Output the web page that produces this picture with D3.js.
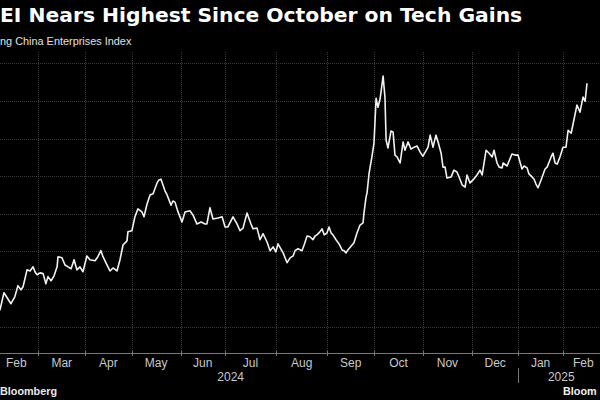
<!DOCTYPE html>
<html>
<head>
<meta charset="utf-8">
<script src="https://cdn.jsdelivr.net/npm/d3@7"></script>
<style>
  html, body { margin: 0; padding: 0; background: #000; overflow: hidden; }
  svg { display: block; }
</style>
</head>
<body>
<svg id="chart" width="600" height="400"></svg>
<script>
// ---- Data (x = trading-day index counted from 1 Feb 2024) ----
const tradingDay = [-4, 2.5, 4.2, 7.2, 8.9, 10.2, 11.5, 12.4, 14.1, 15.4, 16.7, 17.5, 18.4, 19.7, 21.0, 22.2, 23.1, 24.4, 25.7, 27.0, 27.4, 29.1, 30.4, 31.7, 33.0, 34.3, 35.5, 36.8, 38.1, 39.8, 41.1, 43.3, 44.5, 45.8, 46.7, 48.4, 49.7, 51.0, 52.7, 54.0, 55.3, 57.0, 57.4, 59.1, 60.4, 61.7, 63.4, 64.3, 65.6, 66.9, 68.2, 69.9, 70.7, 71.6, 72.4, 73.3, 74.2, 75.9, 76.7, 77.6, 78.9, 80.6, 81.9, 84.0, 85.3, 87.0, 88.8, 90.5, 91.3, 92.6, 93.9, 96.1, 97.8, 99.1, 100.3, 102.5, 104.2, 105.5, 106.8, 108.5, 110.2, 111.1, 112.8, 114.1, 115.4, 117.1, 118.4, 119.7, 120.9, 121.8, 124.0, 125.7, 127.0, 128.3, 129.1, 130.4, 132.1, 133.0, 134.3, 135.5, 136.8, 137.7, 138.5, 139.8, 140.7, 141.6, 142.8, 143.7, 144.6, 145.4, 146.7, 148.0, 149.3, 150.1, 151.0, 151.8, 153.6, 154.4, 155.7, 157.0, 158.3, 158.7, 159.6, 160.0, 160.9, 162.1, 163.0, 163.9, 164.7, 165.6, 166.4, 166.9, 167.7, 168.2, 169.0, 170.3, 171.2, 172.0, 172.9, 174.2, 175.5, 176.3, 177.6, 178.9, 180.2, 181.5, 182.8, 184.0, 185.3, 186.2, 187.1, 188.3, 189.6, 190.5, 191.8, 192.6, 193.5, 194.3, 196.1, 197.3, 198.6, 199.5, 200.8, 202.1, 202.9, 204.2, 205.5, 207.2, 208.5, 209.4, 211.1, 212.4, 213.7, 214.5, 215.8, 216.7, 218.0, 218.4, 220.1, 222.2, 223.5, 224.8, 226.5, 227.4, 228.7, 229.5, 230.8, 231.7, 232.5, 233.4, 234.7, 236.4, 237.3, 239.0, 239.8, 240.7, 241.6, 242.8, 244.1, 245.4, 246.3, 247.6, 248.4, 250.1, 251.4, 252.7, 253.6, 254.4];
const indexValue = [5200, 5225, 5450, 5305, 5400, 5545, 5490, 5530, 5755, 5740, 5795, 5730, 5690, 5715, 5705, 5570, 5665, 5610, 5675, 5795, 5930, 5915, 5820, 5795, 5770, 5890, 5755, 5795, 5730, 5940, 5890, 5875, 5930, 6010, 5930, 5820, 5740, 5780, 5740, 5890, 6085, 6140, 6260, 6275, 6460, 6565, 6525, 6460, 6630, 6750, 6765, 6910, 6950, 6960, 6885, 6805, 6750, 6615, 6670, 6655, 6525, 6390, 6525, 6540, 6485, 6365, 6390, 6365, 6365, 6580, 6430, 6445, 6460, 6325, 6325, 6460, 6365, 6275, 6310, 6510, 6365, 6300, 6310, 6155, 6235, 6125, 6010, 6060, 5995, 6100, 5980, 5850, 5915, 5940, 6010, 6035, 6010, 6085, 6205, 6195, 6155, 6205, 6220, 6260, 6300, 6220, 6245, 6325, 6245, 6220, 6155, 6100, 6020, 6010, 5980, 6020, 6085, 6115, 6245, 6350, 6380, 6510, 6725, 6775, 7040, 7255, 7440, 8035, 7915, 8025, 8210, 8330, 8050, 7480, 7375, 7600, 7585, 7280, 7255, 7175, 7455, 7345, 7455, 7360, 7385, 7400, 7320, 7265, 7335, 7385, 7545, 7385, 7545, 7455, 7305, 7120, 7120, 6975, 6990, 7080, 7055, 6990, 6885, 6855, 7015, 6910, 6950, 7015, 7080, 7015, 7345, 7305, 7255, 7345, 7175, 7120, 7110, 7175, 7135, 7295, 7280, 7280, 7095, 7135, 7110, 7030, 6990, 6960, 6895, 6845, 6950, 7095, 7120, 7255, 7305, 7175, 7160, 7255, 7385, 7385, 7610, 7570, 7690, 7945, 7850, 8050, 7995, 8235];

// Month starts (trading-day index) and labels
const monthLabels = ["Feb", "Mar", "Apr", "May", "Jun", "Jul", "Aug", "Sep", "Oct", "Nov", "Dec", "Jan", "Feb"];
const monthStart  = [0, 19, 39, 59, 80, 99, 121, 143, 163, 184, 205, 225, 244];
const yearLabels  = ["2024", "2025"];
const yearStart   = [-22, 225];
const yTicks      = [5000, 5500, 6000, 6500, 7000, 7500, 8000, 8500];

// Texts as they appear in the (cropped) picture
const titleText    = "EI Nears Highest Since October on Tech Gains";
const subtitleText = "ng China Enterprises Index";
const sourceText   = "Bloomberg";
const brandText    = "Bloom";

// ---- Layout ----
const svg = d3.select("#chart");
const domainStart = -22, domainEnd = 261.7;
const x = d3.scaleLinear().domain([domainStart, domainEnd]).range([-57.1, 604]);
const y = d3.scaleLinear().domain([4650, 8650]).range([353, 52]);
const plotTop = 52, plotBottom = 353;

// horizontal gridlines
svg.append("g").selectAll("line").data(yTicks).join("line")
  .attr("x1", 0).attr("x2", 600)
  .attr("y1", d => Math.round(y(d)) + 0.5).attr("y2", d => Math.round(y(d)) + 0.5)
  .attr("stroke", "#3a3a3a").attr("stroke-width", 1).attr("stroke-dasharray", "1,1");

// vertical gridlines at month starts
svg.append("g").selectAll("line").data(monthStart.slice(1)).join("line")
  .attr("x1", d => Math.round(x(d)) + 0.5).attr("x2", d => Math.round(x(d)) + 0.5)
  .attr("y1", plotTop).attr("y2", plotBottom)
  .attr("stroke", "#3a3a3a").attr("stroke-width", 1).attr("stroke-dasharray", "1,1");

// x axis baseline + ticks
svg.append("line").attr("x1", 0).attr("x2", 600)
  .attr("y1", plotBottom + 0.5).attr("y2", plotBottom + 0.5)
  .attr("stroke", "#777").attr("stroke-width", 1);
svg.append("g").selectAll("line").data(monthStart.slice(1)).join("line")
  .attr("x1", d => Math.round(x(d)) + 0.5).attr("x2", d => Math.round(x(d)) + 0.5)
  .attr("y1", plotBottom - 2).attr("y2", plotBottom + 3)
  .attr("stroke", "#777").attr("stroke-width", 1);

// month labels centred in each month
const monthEnds = monthStart.slice(1).concat([domainEnd]);
svg.append("g").selectAll("text").data(monthLabels).join("text")
  .attr("x", (d, i) => (x(monthStart[i]) + x(monthEnds[i])) / 2)
  .attr("y", 367)
  .attr("text-anchor", "middle")
  .attr("font-family", "'Liberation Sans', Arial, sans-serif")
  .attr("font-size", 12)
  .attr("fill", "#c8c8c8")
  .text(d => d);

// year labels
const yearEnds = [yearStart[1], domainEnd];
svg.append("g").selectAll("text").data(yearLabels).join("text")
  .attr("x", (d, i) => (x(yearStart[i]) + x(yearEnds[i])) / 2)
  .attr("y", 381)
  .attr("text-anchor", "middle")
  .attr("font-family", "'Liberation Sans', Arial, sans-serif")
  .attr("font-size", 12)
  .attr("fill", "#c8c8c8")
  .text(d => d);

// year separator
svg.append("line")
  .attr("x1", Math.round(x(yearStart[1])) + 0.5).attr("x2", Math.round(x(yearStart[1])) + 0.5)
  .attr("y1", 368).attr("y2", 383)
  .attr("stroke", "#777").attr("stroke-width", 1);

// series line
const pts = tradingDay.map((d, i) => [d, indexValue[i]]);
svg.append("path")
  .datum(pts)
  .attr("fill", "none")
  .attr("stroke", "#f2f2f2")
  .attr("stroke-width", 1.6)
  .attr("stroke-linejoin", "round")
  .attr("d", d3.line().x(d => x(d[0])).y(d => y(d[1])));

// titles
svg.append("text").attr("x", 0).attr("y", 22)
  .attr("font-family", "'DejaVu Sans', sans-serif").attr("font-weight", "bold")
  .attr("font-size", 20.3).attr("fill", "#fff").text(titleText);
svg.append("text").attr("x", 0).attr("y", 45)
  .attr("font-family", "'Liberation Sans', Arial, sans-serif")
  .attr("font-size", 10.9).attr("fill", "#e0e0e0").text(subtitleText);

// footer
svg.append("text").attr("x", 0).attr("y", 395)
  .attr("font-family", "'Liberation Sans', Arial, sans-serif").attr("font-weight", "bold")
  .attr("font-size", 10.8).attr("fill", "#e8e8e8").text(sourceText);
svg.append("text").attr("x", 563).attr("y", 395)
  .attr("font-family", "'Liberation Sans', Arial, sans-serif").attr("font-weight", "bold")
  .attr("font-size", 10.8).attr("fill", "#f0f0f0")
  .text(brandText);
</script>
</body>
</html>
